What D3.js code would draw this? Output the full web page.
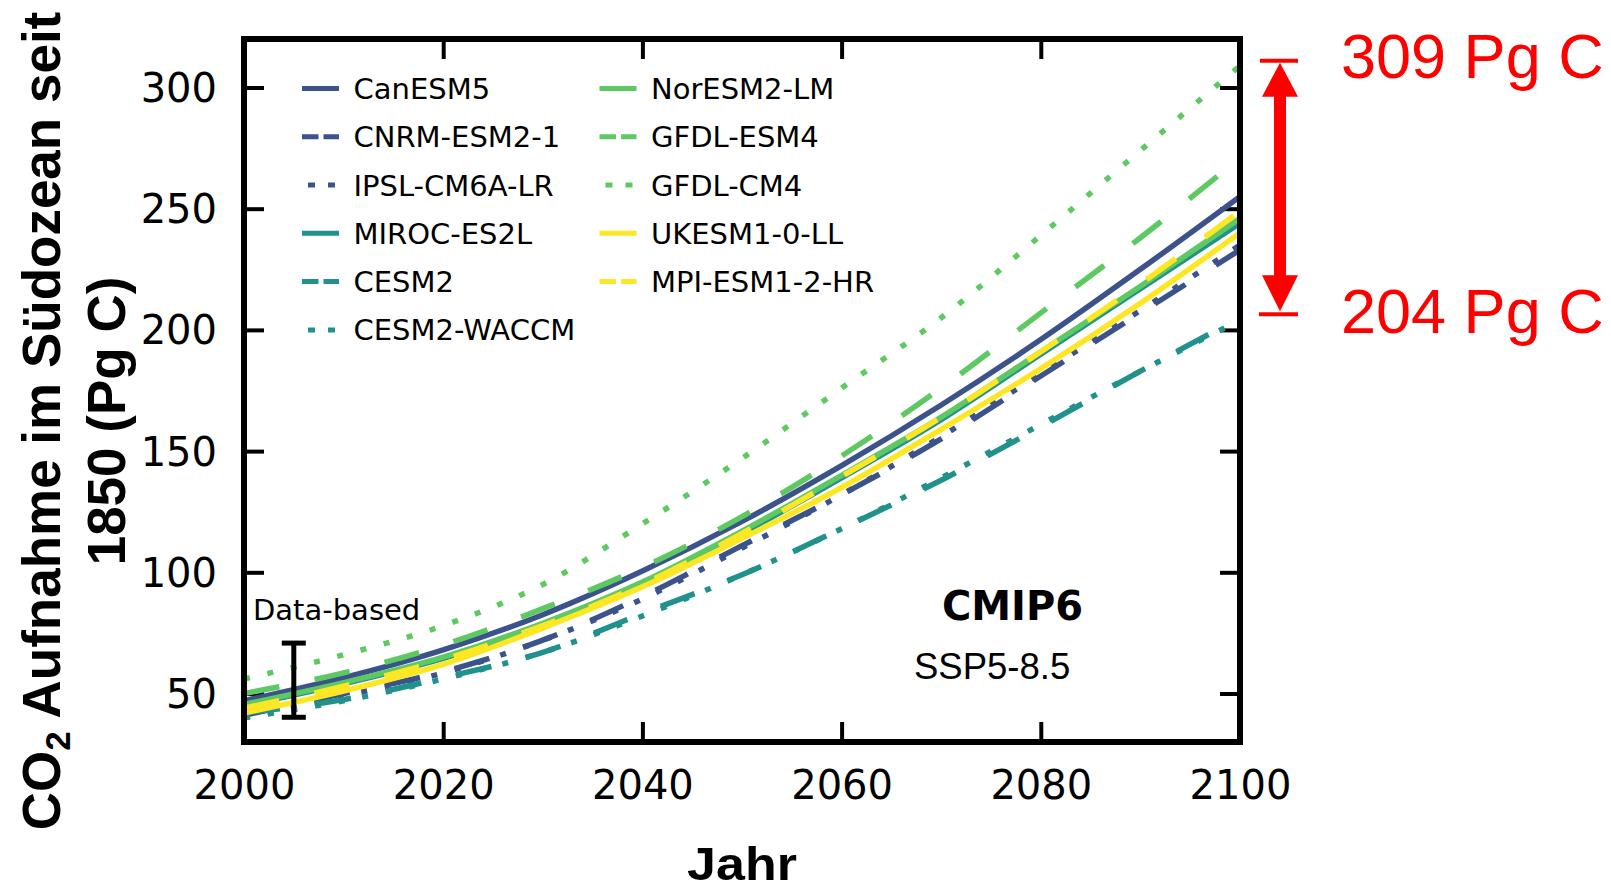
<!DOCTYPE html>
<html>
<head>
<meta charset="utf-8">
<script src="https://cdn.jsdelivr.net/npm/d3@7"></script>
<style>
  body { margin: 0; background: #fff; }
  svg { display: block; }
</style>
</head>
<body>
<svg id="chart"></svg>
<script>
// values (Pg C, cumulative uptake since 1850)
const years = [2000, 2010, 2020, 2030, 2040, 2050, 2060, 2070, 2080, 2090, 2100];

const canesm5   = [47, 56.5, 68, 82.5, 100.5, 121, 144, 169, 196, 225, 255];
const cnrmEsm2  = [41, 50, 59, 72, 90, 111, 132, 155, 181, 207, 233];
const ipslCm6a  = [40, 49, 58.5, 72, 89, 110, 132, 156, 182, 208, 235];
const mirocEs2l = [45, 54, 64.5, 78, 95, 116, 139, 163, 190, 217, 244];
const cesm2     = [42, 47.5, 56.5, 67, 83, 99, 118, 138, 160, 183, 205];
const cesm2Wacc = [40, 47, 56, 67, 82, 99, 118, 139, 161, 183, 204];
const norEsm2   = [45.5, 54.5, 65, 79, 96, 117, 140, 164, 191, 218, 246];
const gfdlEsm4  = [50, 58.5, 70, 85, 102, 123, 148, 176, 207, 238, 271];
const gfdlCm4   = [56, 66, 78, 95, 120, 147, 176, 205, 239, 274, 309];
const ukesm1    = [42, 51, 62, 77, 94, 114, 135, 159, 184, 211, 240];
const mpiEsm12  = [44, 53, 64, 78, 95, 116, 139.5, 164, 191, 219, 249];

const modelNames = ["CanESM5", "CNRM-ESM2-1", "IPSL-CM6A-LR", "MIROC-ES2L", "CESM2", "CESM2-WACCM",
                    "NorESM2-LM", "GFDL-ESM4", "GFDL-CM4", "UKESM1-0-LL", "MPI-ESM1-2-HR"];
const modelValues = [canesm5, cnrmEsm2, ipslCm6a, mirocEs2l, cesm2, cesm2Wacc,
                     norEsm2, gfdlEsm4, gfdlCm4, ukesm1, mpiEsm12];

const xTicks = [2000, 2020, 2040, 2060, 2080, 2100];
const yTicks = [50, 100, 150, 200, 250, 300];

// observational estimate (error bar)
const dataBasedYear = 2005;
const dataBasedMean = 55.5;
const dataBasedErr = 15.3;

// spread at 2100
const rangeMax = 309;
const rangeMin = 204;

// ---- styles
const navy = "#3b528b", teal = "#21918c", green = "#5ec962", yellow = "#fde725";
const colors = [navy, navy, navy, teal, teal, teal, green, green, green, yellow, yellow];
const kinds  = ["solid", "dashed", "dotted", "solid", "dashed", "dotted",
                "solid", "dashed", "dotted", "solid", "dashed"];
const plotDash   = { solid: null, dashed: "36,36", dotted: "6,18" };
const legendDash = { solid: null, dashed: "16.5,5", dotted: "7,13" };
const legendOffset = { solid: 0, dashed: 0, dotted: 14 };

const W = 1611, H = 891;
const margin = { top: 39, right: 371, bottom: 149, left: 244 };
const pLeft = margin.left, pRight = W - margin.right, pTop = margin.top, pBottom = H - margin.bottom;

const svg = d3.select("#chart").attr("width", W).attr("height", H);

const x = d3.scaleLinear().domain([2000, 2100]).range([pLeft, pRight]);
const y = d3.scaleLinear().domain([30, 320]).range([pBottom, pTop]);

svg.append("defs").append("clipPath").attr("id", "clip")
  .append("rect").attr("x", pLeft).attr("y", pTop).attr("width", pRight - pLeft).attr("height", pBottom - pTop);

// ticks (inward, all four sides)
const tickFont = "'DejaVu Sans', sans-serif";
const gx = svg.append("g").attr("transform", `translate(0,${pBottom})`)
  .call(d3.axisBottom(x).tickValues(xTicks).tickFormat(d3.format("d")).tickSize(-20).tickPadding(29));
const gy = svg.append("g").attr("transform", `translate(${pLeft},0)`)
  .call(d3.axisLeft(y).tickValues(yTicks).tickSize(-20).tickPadding(27));
const gx2 = svg.append("g").attr("transform", `translate(0,${pTop})`)
  .call(d3.axisTop(x).tickValues(xTicks).tickSize(-20).tickFormat(""));
const gy2 = svg.append("g").attr("transform", `translate(${pRight},0)`)
  .call(d3.axisRight(y).tickValues(yTicks).tickSize(-20).tickFormat(""));

[gx, gy, gx2, gy2].forEach(g => {
  g.select(".domain").remove();
  g.selectAll(".tick line").attr("stroke", "#000").attr("stroke-width", 4);
});
gx.selectAll(".tick text").attr("font-family", tickFont).attr("font-size", 40).attr("fill", "#000");
gy.selectAll(".tick text").attr("font-family", tickFont).attr("font-size", 40).attr("fill", "#000")
  .attr("dy", "0.35em");

// model lines
const line = d3.line().curve(d3.curveMonotoneX).x((d, i) => x(years[i])).y(d => y(d));
const lines = svg.append("g").attr("clip-path", "url(#clip)");
modelValues.forEach((vals, i) => {
  lines.append("path")
    .datum(vals)
    .attr("fill", "none")
    .attr("stroke", colors[i])
    .attr("stroke-width", 5.5)
    .attr("stroke-dasharray", plotDash[kinds[i]])
    .attr("d", line);
});

// data-based error bar
const eb = svg.append("g").attr("stroke", "#000").attr("stroke-width", 5);
const ex = x(dataBasedYear);
eb.append("line").attr("x1", ex).attr("x2", ex)
  .attr("y1", y(dataBasedMean + dataBasedErr)).attr("y2", y(dataBasedMean - dataBasedErr));
[dataBasedMean + dataBasedErr, dataBasedMean - dataBasedErr].forEach(v => {
  eb.append("line").attr("x1", ex - 12).attr("x2", ex + 12).attr("y1", y(v)).attr("y2", y(v));
});
svg.append("text").attr("x", 253).attr("y", 620)
  .attr("font-family", tickFont).attr("font-size", 29).text("Data-based");

// frame
svg.append("rect").attr("x", pLeft).attr("y", pTop).attr("width", pRight - pLeft).attr("height", pBottom - pTop)
  .attr("fill", "none").attr("stroke", "#000").attr("stroke-width", 6);

// legend
const legend = svg.append("g");
modelNames.forEach((name, i) => {
  const col = i < 6 ? 0 : 1, row = i < 6 ? i : i - 6;
  const lx = col === 0 ? 302 : 599.5;
  const ly = 88.4 + row * 48.3;
  legend.append("line")
    .attr("x1", lx).attr("x2", lx + 37).attr("y1", ly).attr("y2", ly)
    .attr("stroke", colors[i]).attr("stroke-width", 5)
    .attr("stroke-dasharray", legendDash[kinds[i]])
    .attr("stroke-dashoffset", legendOffset[kinds[i]]);
  legend.append("text")
    .attr("x", lx + 51.5).attr("y", ly + 10.5)
    .attr("font-family", tickFont).attr("font-size", 29).text(name);
});

// CMIP6 / scenario
svg.append("text").attr("x", 1012.5).attr("y", 620).attr("text-anchor", "middle")
  .attr("font-family", tickFont).attr("font-weight", "bold").attr("font-size", 40).text("CMIP6");
svg.append("text").attr("x", 914).attr("y", 679)
  .attr("font-family", "'Liberation Sans', Arial, sans-serif").attr("font-size", 36.5).text("SSP5-8.5");

// axis titles
const boldSans = "'Liberation Sans', Arial, sans-serif";
svg.append("text").attr("transform", `translate(${(pLeft + pRight) / 2},880) scale(1.13,1)`)
  .attr("text-anchor", "middle")
  .attr("font-family", boldSans).attr("font-weight", "bold").attr("font-size", 46).text("Jahr");

const yl = svg.append("g").attr("transform", "translate(0,421) rotate(-90)")
  .attr("font-family", boldSans).attr("font-weight", "bold").attr("font-size", 53).attr("text-anchor", "middle");
const t1 = yl.append("text").attr("x", 0).attr("y", 60);
t1.append("tspan").text("CO");
t1.append("tspan").attr("font-size", 35).attr("dy", 10).text("2");
t1.append("tspan").attr("dy", -10).text(" Aufnahme im Südozean seit");
yl.append("text").attr("x", 0).attr("y", 125).text("1850 (Pg C)");

// red spread annotation
const red = "#ff0000";
const ax = 1280;
const yTop = y(rangeMax) - 5, yBot = y(rangeMin) - 6;
const ann = svg.append("g");
ann.append("line").attr("x1", ax - 20).attr("x2", ax + 18).attr("y1", yTop).attr("y2", yTop)
  .attr("stroke", red).attr("stroke-width", 4);
ann.append("line").attr("x1", ax - 21).attr("x2", ax + 18).attr("y1", yBot).attr("y2", yBot)
  .attr("stroke", red).attr("stroke-width", 4);
ann.append("line").attr("x1", ax).attr("x2", ax).attr("y1", yTop + 30).attr("y2", yBot - 30)
  .attr("stroke", red).attr("stroke-width", 12);
ann.append("path").attr("fill", red)
  .attr("d", `M${ax},${yTop + 2} L${ax + 18},${yTop + 36} L${ax - 18},${yTop + 36} Z`);
ann.append("path").attr("fill", red)
  .attr("d", `M${ax},${yBot - 3} L${ax + 18},${yBot - 39} L${ax - 18},${yBot - 39} Z`);
ann.append("text").attr("x", 1341).attr("y", 78).attr("fill", red)
  .attr("font-family", "'Liberation Sans', Arial, sans-serif").attr("font-size", 63).text(`${rangeMax} Pg C`);
ann.append("text").attr("x", 1341).attr("y", 333).attr("fill", red)
  .attr("font-family", "'Liberation Sans', Arial, sans-serif").attr("font-size", 63).text(`${rangeMin} Pg C`);
</script>
</body>
</html>
